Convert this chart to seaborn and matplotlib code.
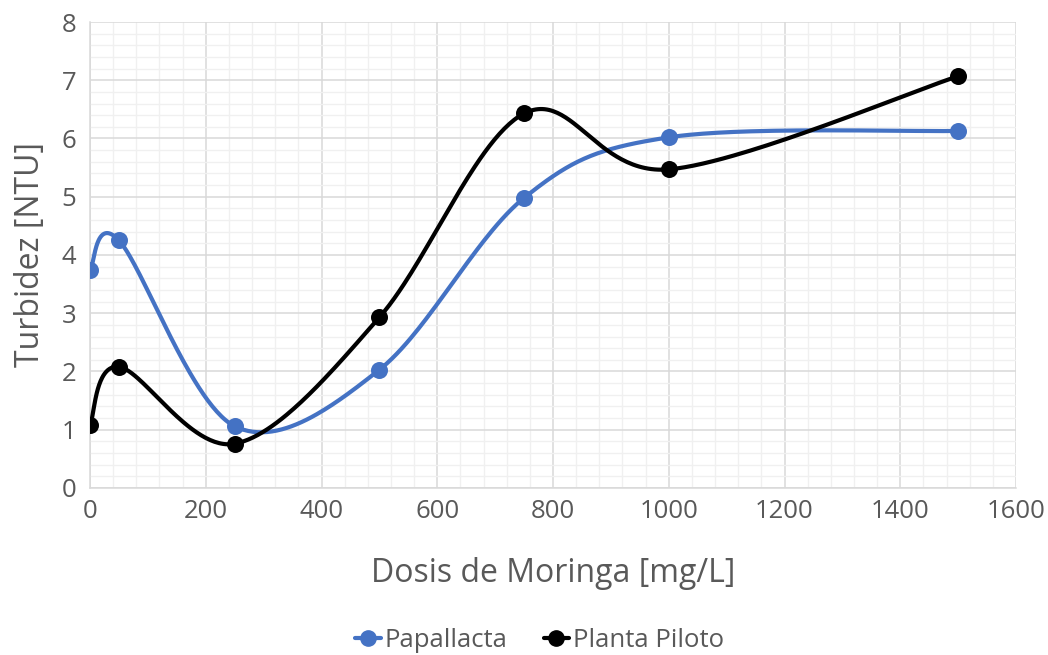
import numpy as np
import pandas as pd
import matplotlib
matplotlib.use("Agg")
import matplotlib.pyplot as plt
import seaborn as sns

dosis = [0, 50, 250, 500, 750, 1000, 1500]
papallacta = [3.74, 4.25, 1.06, 2.03, 4.98, 6.02, 6.13]
planta_piloto = [1.08, 2.08, 0.76, 2.93, 6.43, 5.47, 7.07]
series_names = ["Papallacta", "Planta Piloto"]
colors = ["#4472C4", "#000000"]
x_ticks = [0, 200, 400, 600, 800, 1000, 1200, 1400, 1600]
y_ticks = [0, 1, 2, 3, 4, 5, 6, 7, 8]


def smooth(xs, ys, n=60):
    # Excel-like smoothing: Catmull-Rom converted to cubic Bezier segments
    P = np.column_stack([xs, ys]).astype(float)
    out = []
    for i in range(len(P) - 1):
        p0 = P[i]
        p3 = P[i + 1]
        pm = P[i - 1] if i > 0 else P[i]
        pp = P[i + 2] if i + 2 < len(P) else P[i + 1]
        c1 = p0 + (p3 - pm) / 6.0
        c2 = p3 - (pp - p0) / 6.0
        t = np.linspace(0, 1, n)[:, None]
        seg = ((1 - t) ** 3) * p0 + 3 * ((1 - t) ** 2) * t * c1 + 3 * (1 - t) * t ** 2 * c2 + t ** 3 * p3
        out.append(seg if i == 0 else seg[1:])
    return np.vstack(out)


sns.set_theme(style="white")
plt.rcParams["font.family"] = ["Open Sans", "DejaVu Sans"]

fig = plt.figure(figsize=(10.48, 6.55), dpi=100)
ax = fig.add_axes([0.0859, 0.2550, 0.9695 - 0.0859, 0.9664 - 0.2550])

text_color = "#595959"

for name, vals, col in zip(series_names, [papallacta, planta_piloto], colors):
    curve = smooth(dosis, vals)
    ax.plot(curve[:, 0], curve[:, 1], color=col, lw=3.0, zorder=3)
    df = pd.DataFrame({"x": dosis, "y": vals})
    sns.scatterplot(data=df, x="x", y="y", ax=ax, color=col, s=150, edgecolor=col,
                    linewidth=0, zorder=4, legend=False)
    ax.plot([], [], color=col, lw=3.0, marker="o", markersize=11, label=name)

ax.set_xlim(0, 1600)
ax.set_ylim(0, 8)
ax.set_xticks(x_ticks)
ax.set_yticks(y_ticks)
ax.set_xticks(np.arange(0, 1601, 40), minor=True)
ax.set_yticks(np.arange(0, 8.01, 0.2), minor=True)
ax.grid(which="major", color="#D9D9D9", lw=1.1, zorder=0)
ax.grid(which="minor", color="#F0F0F0", lw=1.0, zorder=0)
ax.set_axisbelow(True)
for s in ["top", "right"]:
    ax.spines[s].set_visible(False)
for s in ["left", "bottom"]:
    ax.spines[s].set_color("#D9D9D9")
    ax.spines[s].set_linewidth(1.1)
ax.tick_params(axis="both", which="both", length=0, labelsize=18.5, labelcolor=text_color)
ax.tick_params(axis="x", pad=8)
ax.tick_params(axis="y", pad=10)
ax.set_xlabel("Dosis de Moringa [mg/L]", fontsize=23, color=text_color, labelpad=24)
ax.set_ylabel("Turbidez [NTU]", fontsize=23, color=text_color, labelpad=10)

leg = fig.legend(loc="center", bbox_to_anchor=(0.515, 0.022), ncol=2, frameon=False,
                 fontsize=18.5, labelcolor=text_color, handlelength=1.0, handletextpad=0.15,
                 columnspacing=1.4)

fig.savefig("out.png", dpi=100)
